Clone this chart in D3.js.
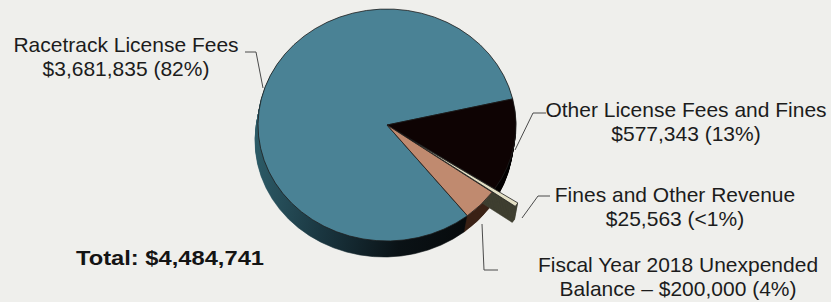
<!DOCTYPE html>
<html>
<head>
<meta charset="utf-8">
<script src="https://cdn.jsdelivr.net/npm/d3@7"></script>
<style>
  html, body { margin: 0; padding: 0; background: #efefec; }
  svg { display: block; font-family: Arial, "Liberation Sans", sans-serif; }
</style>
</head>
<body>
<div id="chart"></div>
<script>
// ── DATA ─────────────────────────────────────
const categories = ['Racetrack License Fees', 'Other License Fees and Fines', 'Fines and Other Revenue', 'Fiscal Year 2018 Unexpended Balance'];
const values = [3681835, 577343, 25563, 200000];
const pctLabels = ['82%', '13%', '<1%', '4%'];
const labelLines = [
  ['Racetrack License Fees', '$3,681,835 (82%)'],
  ['Other License Fees and Fines', '$577,343 (13%)'],
  ['Fines and Other Revenue', '$25,563 (<1%)'],
  ['Fiscal Year 2018 Unexpended', 'Balance \u2013 $200,000 (4%)']
];
const totalLabel = 'Total: $4,484,741';

// ── STYLE ────────────────────────────────────
const TOP_COLOR = ['#4a8295', '#0e0303', '#e3dfc4', '#c08a6f'];
const SIDE_COLOR = ['url(#sideBlue)', '#050000', '#3f3f31', '#3a2216'];
const EXPLODE = [0, 0, 28, 0];

const W = 831, H = 302;
const cx = 387, cy = 125, rx = 129, ry = 116;
const depth = 16, skew = -3;
const k = ry / rx;

const svg = d3.select('#chart').append('svg')
  .attr('width', W).attr('height', H);

const defs = svg.append('defs');
const grad = defs.append('linearGradient')
  .attr('id', 'sideBlue')
  .attr('gradientUnits', 'userSpaceOnUse')
  .attr('x1', -rx).attr('x2', rx).attr('y1', 0).attr('y2', 0);
grad.append('stop').attr('offset', 0).attr('stop-color', '#2c5a66');
grad.append('stop').attr('offset', 0.25).attr('stop-color', '#1a3640');
grad.append('stop').attr('offset', 0.55).attr('stop-color', '#0a1216');
grad.append('stop').attr('offset', 1).attr('stop-color', '#050505');

// ── PIE ──────────────────────────────────────
const start = (77 - 360 * values[0] / d3.sum(values)) * Math.PI / 180;
const pie = d3.pie().sort(null).value(d => d)
  .startAngle(start).endAngle(start + 2 * Math.PI);
const arcs = pie(values);
const arc = d3.arc().innerRadius(0).outerRadius(rx);

function offset(d, i) {
  const a = (d.startAngle + d.endAngle) / 2;
  const e = EXPLODE[i];
  return [Math.sin(a) * e, -Math.cos(a) * e * k];
}

function drawSlice(d, i, layer) {
  const [ox, oy] = offset(d, i);
  const t = layer / depth;
  svg.append('g')
    .attr('transform', `translate(${cx + ox + skew * t},${cy + oy + layer}) scale(1,${k})`)
    .append('path')
    .attr('d', arc(d))
    .attr('fill', layer ? SIDE_COLOR[i] : TOP_COLOR[i])
    .attr('stroke', layer ? SIDE_COLOR[i] : '#1e1e1e')
    .attr('stroke-width', layer ? 0.6 : 0.8)
    .attr('vector-effect', 'non-scaling-stroke');
}

// all sides first (sliver side last so its end shows past the rim),
// then main tops, then the exploded sliver's top
const idx = arcs.map((d, i) => i);
const main = idx.filter(i => !EXPLODE[i]);
const exploded = idx.filter(i => EXPLODE[i]);
for (let l = depth; l >= 1; l--) main.forEach(i => drawSlice(arcs[i], i, l));
for (let l = depth; l >= 1; l--) exploded.forEach(i => drawSlice(arcs[i], i, l));
main.forEach(i => drawSlice(arcs[i], i, 0));
exploded.forEach(i => drawSlice(arcs[i], i, 0));

// ── LEADERS ──────────────────────────────────
const leaders = [
  [[245, 52], [256, 52], [263, 88]],
  [[546, 113], [533, 113], [515, 150]],
  [[550, 196], [538, 196], [522, 218]],
  [[482, 224], [484, 270], [498, 270]]
];
const line = d3.line();
leaders.forEach(p => {
  svg.append('path')
    .attr('d', line(p))
    .attr('fill', 'none')
    .attr('stroke', '#4a4a4a')
    .attr('stroke-width', 1);
});

// ── LABELS ───────────────────────────────────
const labelPos = [[126, 52], [686, 117], [675, 202], [678, 272]];
const lineGap = 24;
labelLines.forEach((lines, i) => {
  const [x, y] = labelPos[i];
  lines.forEach((s, j) => {
    svg.append('text')
      .attr('transform', `translate(${x},${y + j * lineGap}) scale(1.05,1)`)
      .attr('text-anchor', 'middle')
      .attr('font-size', 20)
      .attr('fill', '#1c1c1c')
      .text(s);
  });
});

svg.append('text')
  .attr('transform', 'translate(170,265) scale(1.13,1)')
  .attr('text-anchor', 'middle')
  .attr('font-size', 21)
  .attr('font-weight', 'bold')
  .attr('fill', '#141414')
  .text(totalLabel);
</script>
</body>
</html>
